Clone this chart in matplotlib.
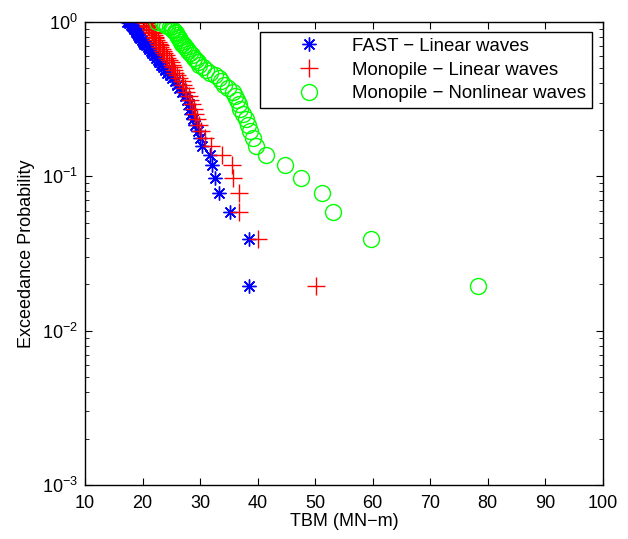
import numpy as np
import matplotlib
matplotlib.use("Agg")
import matplotlib.pyplot as plt

plt.rcParams['font.family'] = ['Liberation Sans', 'DejaVu Sans']
plt.rcParams['mathtext.fontset'] = 'custom'
plt.rcParams['mathtext.rm'] = 'Liberation Sans'
plt.rcParams['mathtext.it'] = 'Liberation Sans'

# TBM values (MN-m), sorted from largest exceedance probability to smallest
fast_linear = [17.3, 17.6, 18.0, 18.2, 18.3, 18.6, 18.8, 18.9, 19.1, 19.2,
               19.4, 19.6, 19.9, 20.1, 20.3, 20.6, 20.9, 21.2, 21.5, 21.7,
               22.0, 22.3, 22.6, 22.9, 23.2, 23.6, 23.9, 24.3, 24.8, 25.2,
               25.6, 26.0, 26.4, 26.9, 27.4, 27.7, 28.0, 28.3, 28.5, 28.8,
               29.2, 29.6, 30.0, 30.4, 31.7, 32.0, 32.6, 33.3, 35.2, 38.5,
               38.5]
mono_linear = [20.3, 20.6, 20.9, 21.0, 21.2, 21.4, 21.5, 21.7, 21.8, 22.0,
               22.2, 22.2, 22.4, 22.6, 22.8, 23.0, 23.1, 23.3, 23.5, 23.7,
               24.0, 24.3, 24.6, 24.9, 25.1, 25.3, 25.5, 25.6, 26.0, 26.3,
               26.8, 27.1, 27.3, 27.6, 28.0, 28.3, 28.6, 28.9, 29.1, 29.5,
               29.8, 30.2, 30.8, 31.9, 33.9, 35.5, 35.8, 36.7, 36.8, 40.0,
               50.2]
mono_nonlinear = [22.5, 23.6, 23.9, 24.3, 24.8, 25.1, 25.3, 25.6, 25.8, 26.0,
                  26.1, 26.3, 26.5, 26.7, 26.9, 27.2, 27.4, 27.7, 27.9, 28.3,
                  28.6, 29.0, 29.3, 29.6, 29.8, 30.5, 31.0, 31.7, 32.6, 33.3,
                  33.6, 34.2, 34.9, 35.7, 36.1, 36.4, 36.7, 37.0, 37.5, 38.0,
                  38.4, 38.7, 39.2, 39.7, 41.5, 44.8, 47.6, 51.2, 53.1, 59.7,
                  78.3]

n = len(fast_linear)
prob = np.arange(n, 0, -1) / n

fig = plt.figure(figsize=(6.28, 5.39), dpi=100)
ax = fig.add_axes([0.1354, 0.1002, 0.8243, 0.8590])

asterisk = (8, 2, 0)
ax.plot(fast_linear, prob, linestyle='none', marker=asterisk, color=(0, 0, 1),
        markersize=10, markeredgewidth=1.0, label='FAST \u2212 Linear waves')
ax.plot(mono_linear, prob, linestyle='none', marker='+', color=(1, 0, 0),
        markersize=13, markeredgewidth=1.0, label='Monopile \u2212 Linear waves')
ax.plot(mono_nonlinear, prob, linestyle='none', marker='o', color=(0, 1, 0),
        markerfacecolor='none', markersize=11.5, markeredgewidth=1.0,
        label='Monopile \u2212 Nonlinear waves')

ax.set_yscale('log')
ax.set_xlim(10, 100)
ax.set_ylim(1e-3, 1)
ax.set_xticks(np.arange(10, 101, 10))
ax.tick_params(which='both', direction='in', top=True, right=True, labelsize=13)
ax.tick_params(which='major', length=5)
ax.tick_params(which='minor', length=3)
ax.tick_params(axis='x', pad=7)
ax.tick_params(axis='y', pad=5)
ax.xaxis.set_minor_locator(matplotlib.ticker.NullLocator())
for s in ax.spines.values():
    s.set_linewidth(1.0)

ax.set_xlabel('TBM (MN\u2212m)', fontsize=13, labelpad=1)
ax.set_ylabel('Exceedance Probability', fontsize=13, labelpad=5)

leg = ax.legend(loc='upper right', bbox_to_anchor=(0.979, 0.978), fontsize=13.4,
                fancybox=False, edgecolor='black', framealpha=1,
                borderpad=0.3, labelspacing=0.36, handletextpad=0.05,
                handlelength=4.6, borderaxespad=0)
leg.get_frame().set_linewidth(1.0)

fig.savefig('out.png', dpi=100)
